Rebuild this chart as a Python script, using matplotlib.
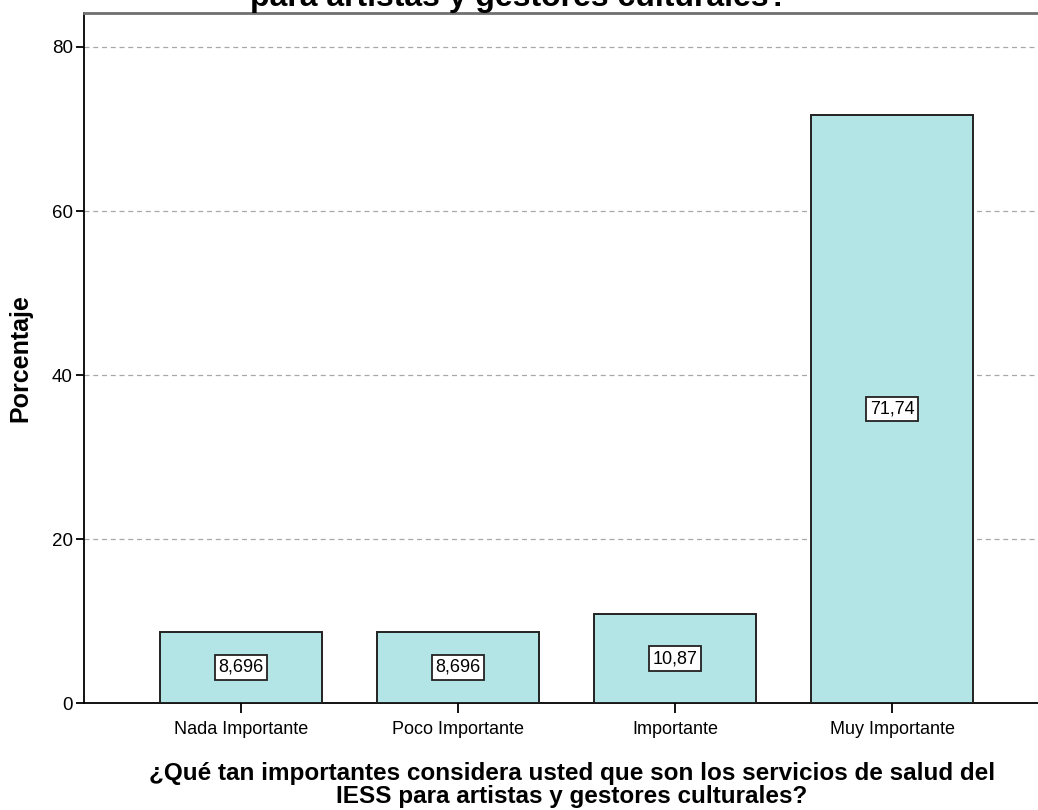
import matplotlib.pyplot as plt

# datos del gráfico
categorias = ['Nada Importante', 'Poco Importante', 'Importante', 'Muy Importante']
porcentajes = [8.696, 8.696, 10.87, 71.74]
ticks_y = [0, 20, 40, 60, 80]

titulo = ('¿Qué tan importantes considera usted que son los servicios de salud del IESS\n'
          'para artistas y gestores culturales?')
etiqueta_x = ('¿Qué tan importantes considera usted que son los servicios de salud del\n'
              'IESS para artistas y gestores culturales?')

plt.rcParams['font.family'] = ['Liberation Sans', 'DejaVu Sans']

fig = plt.figure(figsize=(10.38, 8.10), dpi=100)
ax = fig.add_axes([0.081, 0.132, 0.93, 0.852])

x = list(range(len(categorias)))
ax.bar(x, porcentajes, width=0.747, color='#b4e5e6', edgecolor='#222222',
       linewidth=1.4, zorder=3)

# etiquetas de valor dentro de cada barra
for xi, v in zip(x, porcentajes):
    txt = f'{v:.4g}'.replace('.', ',')
    ax.text(xi, v / 2, txt, ha='center', va='center', fontsize=13, zorder=4,
            bbox=dict(boxstyle='square,pad=0.2', facecolor='white',
                      edgecolor='#222222', linewidth=1.3))

ax.set_xlim(-0.724, 3.724)
ax.set_ylim(0, 84.15)
ax.set_yticks(ticks_y)
ax.set_xticks(x)
ax.set_xticklabels(categorias, fontsize=13)
ax.tick_params(axis='y', labelsize=13.5, length=6, width=1.3, pad=2)
ax.tick_params(axis='x', length=7, width=1.3, pad=6)

ax.yaxis.grid(True, linestyle=(0, (4, 3)), color='#a8a8a8', linewidth=0.9, zorder=0)
ax.set_axisbelow(True)

ax.spines['left'].set_linewidth(1.3)
ax.spines['bottom'].set_linewidth(1.3)
ax.spines['top'].set_color('#707070')
ax.spines['top'].set_linewidth(2)
ax.spines['right'].set_visible(False)

ax.set_ylabel('Porcentaje', fontsize=18, fontweight='bold')
ax.yaxis.set_label_coords(-0.054, 0.5)
ax.set_xlabel(etiqueta_x, fontsize=17.5, fontweight='bold', linespacing=0.95)
ax.xaxis.set_label_coords(0.505, -0.086)

# título recortado por el borde superior
fig.text(0.5, 1 - 6 / 810, titulo, ha='center', va='baseline', fontsize=23,
         fontweight='bold', linespacing=1.1)

fig.savefig('out.png', dpi=100)
